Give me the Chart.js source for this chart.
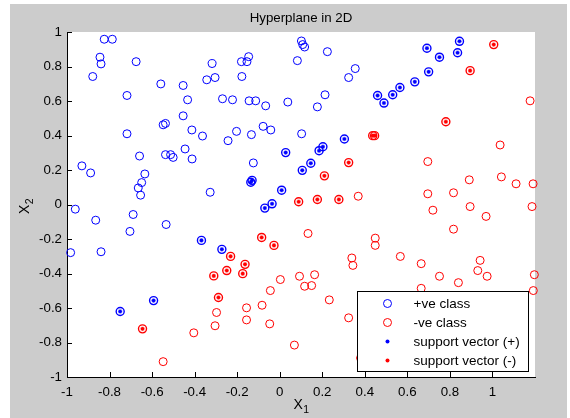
<!DOCTYPE html>
<html><head><meta charset="utf-8">
<script src="https://cdn.jsdelivr.net/npm/chart.js@4/dist/chart.umd.min.js"></script>
<style>html,body{margin:0;padding:0;background:#fff;}#wrap{width:570px;height:418px;}</style>
</head><body><div id="wrap"><canvas id="c" width="570" height="418"></canvas></div>
<script>
const titleText = 'Hyperplane in 2D';
const xLabel = ['X', '1'];
const yLabel = ['X', '2'];
const xTicks = [-1, -0.8, -0.6, -0.4, -0.2, 0, 0.2, 0.4, 0.6, 0.8, 1];
const yTicks = [-1, -0.8, -0.6, -0.4, -0.2, 0, 0.2, 0.4, 0.6, 0.8, 1];
const legendLabels = ['+ve class', '-ve class', 'support vector (+)', 'support vector (-)'];

// +ve class (not support vectors)
const posX = [-0.825,-0.787,-0.845,-0.840,-0.879,-0.675,-0.718,-0.718,-0.930,-0.889,-0.659,-0.634,-0.649,-0.665,-0.654,-0.559,-0.548,-0.537,-0.537,-0.513,-0.501,-0.454,-0.433,-0.454,-0.413,-0.445,-0.412,-0.363,-0.343,-0.304,-0.318,-0.269,-0.243,-0.327,
  0.102,0.108,0.117,0.224,0.083,-0.146,-0.180,-0.154,-0.178,0.355,0.324,-0.222,-0.144,-0.113,-0.066,0.038,0.213,0.177,-0.203,-0.133,-0.078,-0.042,0.103,-0.124,
  -0.961,-0.865,-0.689,-0.704,-0.534,-0.983,-0.840];
const posY = [0.958,0.958,0.854,0.815,0.742,0.828,0.632,0.410,0.224,0.183,0.281,0.177,0.127,0.096,0.054,0.699,0.462,0.470,0.289,0.289,0.273,0.690,0.607,0.514,0.432,0.322,0.264,0.397,0.723,0.736,0.817,0.613,0.370,0.071,
  0.948,0.927,0.913,0.886,0.834,0.857,0.828,0.828,0.742,0.788,0.736,0.607,0.601,0.601,0.572,0.594,0.636,0.566,0.424,0.405,0.453,0.432,0.410,0.241,
  -0.027,-0.091,-0.058,-0.156,-0.116,-0.279,-0.274];

// +ve support vectors
const svPosX = [-0.130,-0.136,0.028,0.203,0.185,0.304,0.146,0.106,0.009,-0.036,-0.070,0.460,0.490,0.531,0.565,0.635,0.700,0.692,0.751,0.836,0.845,-0.368,-0.272,-0.593,-0.750];
const svPosY = [0.140,0.129,0.301,0.335,0.312,0.380,0.239,0.198,0.083,0.004,-0.021,0.632,0.588,0.636,0.678,0.711,0.769,0.906,0.854,0.880,0.946,-0.208,-0.260,-0.557,-0.620];

// -ve class (not support vectors)
const negX = [0.369,1.177,1.036,0.696,0.891,1.042,1.111,1.191,0.696,0.817,
  0.720,0.895,0.970,1.186,0.817,0.567,0.665,0.942,0.931,0.975,0.751,0.840,1.197,0.665,1.192,
  0.133,0.449,0.449,0.339,0.344,0.093,0.164,0.117,0.150,0.003,-0.044,-0.083,-0.156,-0.156,-0.047,0.233,0.324,0.069,
  -0.297,-0.304,-0.404,-0.548,0.380,0.700];
const negY = [0.048,0.601,0.345,0.249,0.143,0.160,0.120,0.120,0.062,0.068,
  -0.033,-0.012,-0.069,-0.012,-0.143,-0.301,-0.343,-0.324,-0.383,-0.416,-0.416,-0.453,-0.407,-0.486,-0.499,
  -0.168,-0.195,-0.237,-0.310,-0.353,-0.416,-0.407,-0.474,-0.470,-0.435,-0.499,-0.584,-0.599,-0.669,-0.692,-0.553,-0.657,-0.815,
  -0.626,-0.703,-0.744,-0.911,-0.890,-0.942];

// -ve support vectors
const svNegX = [0.437,0.446,0.324,0.210,0.089,0.177,0.278,1.006,0.895,0.781,-0.085,-0.027,-0.231,-0.163,-0.174,-0.249,-0.310,-0.288,-0.645];
const svNegY = [0.399,0.399,0.243,0.166,0.016,0.029,0.029,0.927,0.776,0.480,-0.191,-0.237,-0.301,-0.347,-0.401,-0.383,-0.414,-0.539,-0.721];

const BLUE = 'rgb(0,0,255)';
const RED = 'rgb(255,0,0)';
const FONT = "'Liberation Sans', Arial, sans-serif";
const pts = (xs, ys) => xs.map((x, i) => ({x: x, y: ys[i]}));
const fmt = v => String(Math.round(v * 10) / 10);
const nPos = posX.length, nNeg = negX.length;

function drawSubLabel(ctx, parts, cx, cy, rot) {
  ctx.save();
  ctx.translate(cx, cy);
  ctx.rotate(rot);
  ctx.fillStyle = '#000';
  ctx.textBaseline = 'alphabetic';
  ctx.textAlign = 'left';
  ctx.font = '14px ' + FONT;
  const w1 = ctx.measureText(parts[0]).width;
  ctx.font = '10.5px ' + FONT;
  const w2 = ctx.measureText(parts[1]).width;
  const x0 = -(w1 + w2) / 2;
  ctx.font = '14px ' + FONT;
  ctx.fillText(parts[0], x0, 5);
  ctx.font = '10.5px ' + FONT;
  ctx.fillText(parts[1], x0 + w1 + 0.5, 9);
  ctx.restore();
}

const bgPlugin = {
  id: 'bg',
  beforeDraw(chart) {
    const {ctx, chartArea: a, width, height} = chart;
    ctx.save();
    ctx.fillStyle = '#ffffff';
    ctx.fillRect(0, 0, width, height);
    ctx.fillStyle = 'rgb(204,204,204)';
    ctx.fillRect(10, 4, width - 13, height - 4);
    ctx.fillStyle = '#ffffff';
    ctx.fillRect(a.left, a.top, a.right - a.left, a.bottom - a.top);
    ctx.restore();
  },
  afterDraw(chart) {
    const {ctx, chartArea: a} = chart;
    const xs = chart.scales.x, ys = chart.scales.y;
    ctx.save();
    // inward tick marks
    ctx.strokeStyle = '#000';
    ctx.lineWidth = 1;
    ctx.beginPath();
    xs.ticks.forEach(t => {
      const px = Math.round(xs.getPixelForValue(t.value)) + 0.5;
      ctx.moveTo(px, a.bottom); ctx.lineTo(px, a.bottom - 5);
    });
    ys.ticks.forEach(t => {
      const py = Math.round(ys.getPixelForValue(t.value)) + 0.5;
      ctx.moveTo(a.left, py); ctx.lineTo(a.left + 5, py);
    });
    ctx.stroke();
    // title
    ctx.fillStyle = '#000';
    ctx.font = '13.3px ' + FONT;
    ctx.textAlign = 'center';
    ctx.textBaseline = 'middle';
    ctx.fillText(titleText, (a.left + a.right) / 2, 18);
    // axis labels
    drawSubLabel(ctx, xLabel, (a.left + a.right) / 2, 404, 0);
    drawSubLabel(ctx, yLabel, 24, (a.top + a.bottom) / 2 + 2, -Math.PI / 2);
    // legend box
    const L = Math.round(a.right - 178) + 0.5, T = Math.round(a.bottom - 86) + 0.5;
    const W = 171, H = 80;
    ctx.fillStyle = '#fff';
    ctx.fillRect(L, T, W, H);
    ctx.strokeStyle = '#000';
    ctx.lineWidth = 1;
    ctx.strokeRect(L, T, W, H);
    ctx.font = '13.5px ' + FONT;
    ctx.textAlign = 'left';
    ctx.textBaseline = 'middle';
    legendLabels.forEach((lab, i) => {
      const cy = T + 12 + i * 19;
      const sx = L + 30;
      const ds = chart.data.datasets[i];
      ctx.beginPath();
      if (i < 2) {
        ctx.strokeStyle = ds.borderColor;
        ctx.lineWidth = 1;
        ctx.arc(sx, cy, 4, 0, Math.PI * 2);
        ctx.stroke();
      } else {
        ctx.fillStyle = ds.backgroundColor;
        ctx.arc(sx, cy, 2, 0, Math.PI * 2);
        ctx.fill();
      }
      ctx.fillStyle = '#000';
      ctx.fillText(lab, L + 56, cy + 1);
    });
    ctx.restore();
  }
};

const axisCommon = {
  type: 'linear',
  grid: {display: false, drawTicks: false},
  border: {display: true, color: '#000', width: 1},
};

new Chart(document.getElementById('c'), {
  type: 'scatter',
  data: {
    datasets: [
      {label: legendLabels[0], data: pts(posX.concat(svPosX), posY.concat(svPosY)), pointStyle: 'circle', pointRadius: 4,
        borderWidth: c => (c.dataIndex >= nPos ? 1.4 : 1), borderColor: BLUE, backgroundColor: 'rgba(0,0,0,0)', clip: false},
      {label: legendLabels[1], data: pts(negX.concat(svNegX), negY.concat(svNegY)), pointStyle: 'circle', pointRadius: 4,
        borderWidth: c => (c.dataIndex >= nNeg ? 1.4 : 1), borderColor: RED, backgroundColor: 'rgba(0,0,0,0)', clip: false},
      {label: legendLabels[2], data: pts(svPosX, svPosY), pointStyle: 'circle', pointRadius: 1.8, borderWidth: 1.2, borderColor: 'rgba(0,0,255,0.35)', backgroundColor: BLUE, clip: false},
      {label: legendLabels[3], data: pts(svNegX, svNegY), pointStyle: 'circle', pointRadius: 1.8, borderWidth: 1.2, borderColor: 'rgba(255,0,0,0.35)', backgroundColor: RED, clip: false}
    ]
  },
  options: {
    responsive: false,
    animation: false,
    devicePixelRatio: 1,
    events: [],
    layout: {padding: {left: 10, right: 35, top: 32, bottom: 0}},
    plugins: {legend: {display: false}, title: {display: false}, tooltip: {enabled: false}},
    scales: {
      x: Object.assign({}, axisCommon, {
        position: 'bottom', min: -1, max: 1.2,
        afterBuildTicks: s => { s.ticks = xTicks.map(v => ({value: v})); },
        afterFit: s => { s.height = 41; },
        ticks: {autoSkip: false, maxRotation: 0, padding: 7, color: '#000', font: {family: FONT, size: 13.3}, callback: v => fmt(v)}
      }),
      y: Object.assign({}, axisCommon, {
        position: 'left', min: -1, max: 1,
        afterBuildTicks: s => { s.ticks = yTicks.map(v => ({value: v})); },
        afterFit: s => { s.width = 57; },
        ticks: {autoSkip: false, padding: 5, color: '#000', font: {family: FONT, size: 13.3}, callback: v => fmt(v)}
      })
    }
  },
  plugins: [bgPlugin]
});
</script>
</body></html>
